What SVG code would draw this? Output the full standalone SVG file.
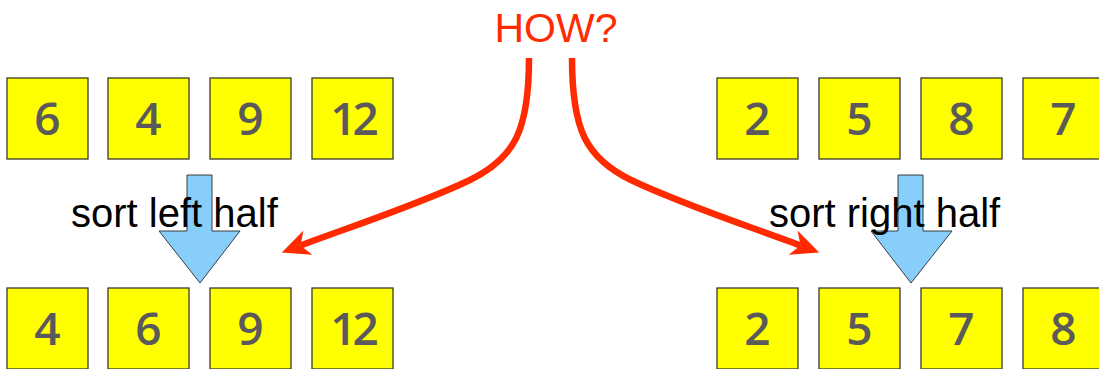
<svg xmlns="http://www.w3.org/2000/svg" width="1099" height="369" viewBox="0 0 1099 369">
<style>
.box{fill:#ffff00;stroke:#3a3a2a;stroke-width:1.3}
.num{font-family:"Open Sans","Liberation Sans",sans-serif;font-weight:600;font-size:46px;fill:#5a5a5a;text-anchor:middle}
.lbl{font-family:"Liberation Sans",Arial,sans-serif;font-size:40px;fill:#000}
.how{font-family:"Liberation Sans",Arial,sans-serif;font-size:41px;fill:#ff2a00;text-anchor:middle}
.curve{fill:none;stroke:#ff2a00;stroke-width:6.5;stroke-linecap:butt}
.blk{fill:#87cefa;stroke:#2a2a2a;stroke-width:0.9}
</style>
<defs>
<marker id="rh" viewBox="0 0 28 26" refX="8" refY="13" markerWidth="28" markerHeight="26" markerUnits="userSpaceOnUse" orient="auto">
<path d="M0,0 L28,13 L0,26 L8,13 Z" fill="#ff2a00"/>
</marker>
</defs>
<rect width="1099" height="369" fill="#fff"/>
<g id="connectors">
<polygon class="blk" points="187,175 212,175 212,231 240,231 200,283 159,231 187,231"/>
<polygon class="blk" points="898,175 923,175 923,231 952,231 911,283 871,231 898,231"/>
<path class="curve" d="M529,58 C529,130 515,158 470,180 C420,204 350,227 300.5,245.5" marker-end="url(#rh)"/>
<path class="curve" d="M572,58 C572,130 586,158 631,180 C681,204 751,227 800.5,245.5" marker-end="url(#rh)"/>
</g>
<g id="how"><text class="how" x="556" y="42">HOW?</text></g>
<g id="label-left"><text class="lbl" x="71" y="227">sort left half</text></g>
<g id="label-right"><text class="lbl" x="769" y="227">sort right half</text></g>
<g id="top-l1"><rect class="box" x="7" y="78" width="81" height="81"/><text class="num" x="47.5" y="135">6</text></g>
<g id="top-l2"><rect class="box" x="108" y="78" width="81" height="81"/><text class="num" x="148.5" y="135">4</text></g>
<g id="top-l3"><rect class="box" x="210" y="78" width="81" height="81"/><text class="num" x="250.5" y="135">9</text></g>
<g id="top-l4"><rect class="box" x="312" y="78" width="81" height="81"/><text class="num" x="352.5" y="135" letter-spacing="-4">12</text></g>
<g id="top-r1"><rect class="box" x="717" y="78" width="81" height="81"/><text class="num" x="757.5" y="135">2</text></g>
<g id="top-r2"><rect class="box" x="819" y="78" width="81" height="81"/><text class="num" x="859.5" y="135">5</text></g>
<g id="top-r3"><rect class="box" x="921" y="78" width="81" height="81"/><text class="num" x="961.5" y="135">8</text></g>
<g id="top-r4"><rect class="box" x="1023" y="78" width="81" height="81"/><text class="num" x="1063.5" y="135">7</text></g>
<g id="bot-l1"><rect class="box" x="7" y="288" width="81" height="81"/><text class="num" x="47.5" y="345">4</text></g>
<g id="bot-l2"><rect class="box" x="108" y="288" width="81" height="81"/><text class="num" x="148.5" y="345">6</text></g>
<g id="bot-l3"><rect class="box" x="210" y="288" width="81" height="81"/><text class="num" x="250.5" y="345">9</text></g>
<g id="bot-l4"><rect class="box" x="312" y="288" width="81" height="81"/><text class="num" x="352.5" y="345" letter-spacing="-4">12</text></g>
<g id="bot-r1"><rect class="box" x="717" y="288" width="81" height="81"/><text class="num" x="757.5" y="345">2</text></g>
<g id="bot-r2"><rect class="box" x="819" y="288" width="81" height="81"/><text class="num" x="859.5" y="345">5</text></g>
<g id="bot-r3"><rect class="box" x="921" y="288" width="81" height="81"/><text class="num" x="961.5" y="345">7</text></g>
<g id="bot-r4"><rect class="box" x="1023" y="288" width="81" height="81"/><text class="num" x="1063.5" y="345">8</text></g>
</svg>
